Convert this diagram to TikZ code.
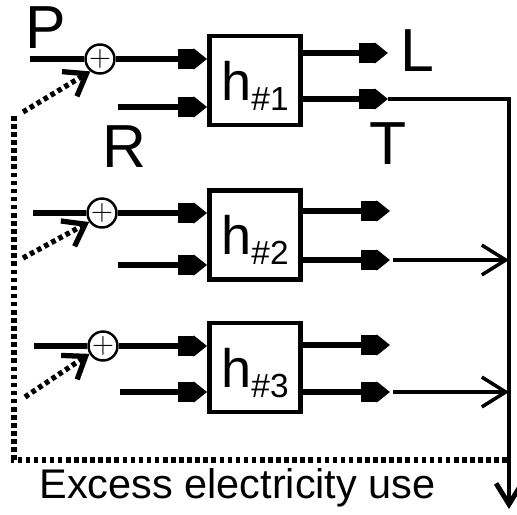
\documentclass[tikz,border=0pt]{standalone}
\usepackage{fontspec}
\setmainfont{Liberation Sans}
\usetikzlibrary{arrows.meta}
\tikzset{
  hblock/.style={
    rectangle,
    draw=black,
    line width=2.8pt,
    minimum width=1.82cm,
    minimum height=1.78cm,
    inner sep=0pt,
    text depth=0pt,
    font=\fontsize{30.8}{31}\selectfont
  },
  sumnode/.style={
    circle,
    draw=black,
    line width=1.4pt,
    minimum size=0.56cm,
    inner sep=0pt,
    font=\fontsize{19}{19}\selectfont
  },
  biglabel/.style={
    inner sep=0pt,
    anchor=base,
    font=\fontsize{34.6}{35}\selectfont
  },
  plainline/.style={
    line width=3.1pt
  },
  sigline/.style={
    line width=3.1pt,
    -{Rectangle[length=8.8pt,width=11.6pt,sep=0pt]Triangle[length=7.6pt,width=11.6pt]}
  },
  feedline/.style={
    line width=3pt,
    dash pattern=on 2.6pt off 2pt
  },
  feedarrow/.style={
    feedline,
    -{Straight Barb[length=11.3pt,width=16.4pt]}
  },
  busline/.style={
    line width=2.8pt,
    -{Straight Barb[length=11.9pt,width=14.7pt]}
  },
  thinarrow/.style={
    line width=2pt,
    -{Straight Barb[length=13.6pt,width=17pt]}
  }
}
\newcommand{\hsub}[1]{h\raisebox{-5.7pt}{\fontsize{19}{19}\selectfont\##1}}

\begin{document}
\begin{tikzpicture}[x=0.02cm,y=-0.02cm]
\useasboundingbox (0,0) rectangle (517,514);

\node[hblock] (box1) at (255,80.5) {\hsub{1}};
\node[hblock] (box2) at (255,235) {\hsub{2}};
\node[hblock] (box3) at (255,367.5) {\hsub{3}};

\node[sumnode] (sum1) at (100,59) {$+$};
\node[sumnode] (sum2) at (102,213) {$+$};
\node[sumnode] (sum3) at (103,346) {$+$};

\node[biglabel] (plabel) at (46,48) {P};
\node[biglabel] (rlabel) at (124,167) {R};
\node[biglabel] (llabel) at (417,71) {L};
\node[biglabel] (tlabel) at (388,164) {T};
\node[anchor=base west,inner sep=0pt,font=\fontsize{23.6}{24}\selectfont] (exlabel) at (39,498) {Excess electricity use};

\coordinate (pin1) at (30,59);
\coordinate (pin2) at (33,213);
\coordinate (pin3) at (34,346);
\coordinate (rin1) at (118,107);
\coordinate (rin2) at (118,265);
\coordinate (rin3) at (120,392);
\coordinate (lout1) at (388,53);
\coordinate (tout1) at (388,99);
\coordinate (lout2) at (390,211);
\coordinate (tout2) at (390,260);
\coordinate (lout3) at (390,345);
\coordinate (tout3) at (390,392);
\coordinate (bustop) at (509,99);
\coordinate (busend) at (509,509);
\coordinate (exr) at (507,460);
\coordinate (exl) at (14,460);
\coordinate (extop) at (14,116);
\coordinate (fb1) at (23,112);
\coordinate (fb2) at (23,258);
\coordinate (fb3) at (25,397);

\foreach \i in {1,2,3} {
  \draw[plainline] (pin\i) -- (sum\i);
  \draw[sigline] (sum\i) -- (sum\i -| box\i.west);
  \draw[sigline] (rin\i) -- (rin\i -| box\i.west);
  \draw[sigline] (box\i.east |- lout\i) -- (lout\i);
  \draw[sigline] (box\i.east |- tout\i) -- (tout\i);
}

\draw[busline] (tout1) -- (bustop) -- (busend);
\draw[thinarrow] ([xshift=1.7pt]tout2) -- (tout2 -| bustop);
\draw[thinarrow] ([xshift=1.7pt]tout3) -- (tout3 -| bustop);

\draw[feedline] (exr) -- (exl) -- (extop);
\draw[feedarrow] (fb1) -- (sum1.232);
\draw[feedarrow] (fb2) -- (sum2.215);
\draw[feedarrow] (fb3) -- (sum3.210);
\end{tikzpicture}
\end{document}
